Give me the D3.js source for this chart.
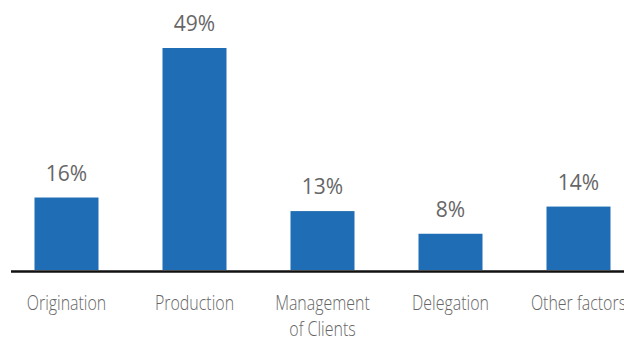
<!DOCTYPE html>
<html>
<head>
<meta charset="utf-8">
<script src="https://cdn.jsdelivr.net/npm/d3@7/dist/d3.min.js"></script>
<style>
  html, body { margin: 0; padding: 0; background: #fff; overflow: hidden; }
  svg { display: block; }
</style>
</head>
<body>
<svg id="chart" width="624" height="338"></svg>
<script>
// Share of responses by factor
const categories = ["Origination", "Production", "Management|of Clients", "Delegation", "Other factors"];
const values = [16, 49, 13, 8, 14];

const width = 624, height = 338;
const baseY = 270;

const svg = d3.select("#chart");

const x = d3.scaleBand()
  .domain(categories)
  .range([2.5, 642.5])
  .paddingInner(0.5)
  .paddingOuter(0.25);

const y = d3.scaleLinear()
  .domain([0, 49])
  .range([baseY, 48]);

// bars
svg.selectAll("rect.bar")
  .data(categories)
  .join("rect")
  .attr("class", "bar")
  .attr("x", d => x(d))
  .attr("width", x.bandwidth())
  .attr("y", (d, i) => y(values[i]))
  .attr("height", (d, i) => y(0) - y(values[i]))
  .attr("fill", "#1f6db5");

// value labels
svg.selectAll("text.val")
  .data(categories)
  .join("text")
  .attr("class", "val")
  .attr("x", d => x(d) + x.bandwidth() / 2)
  .attr("y", (d, i) => y(values[i]) - 17)
  .attr("text-anchor", "middle")
  .attr("font-family", "'Open Sans', sans-serif")
  .attr("font-size", 21)
  .attr("fill", "#666")
  .text((d, i) => values[i] + "%");

// baseline
svg.append("line")
  .attr("x1", 11).attr("x2", width)
  .attr("y1", baseY + 1.5).attr("y2", baseY + 1.5)
  .attr("stroke", "#111")
  .attr("stroke-width", 2.5);

// category labels (condensed)
const labels = svg.selectAll("g.cat")
  .data(categories)
  .join("g")
  .attr("class", "cat")
  .attr("transform", d => `translate(${x(d) + x.bandwidth() / 2},0) scale(0.76,1)`);

labels.each(function(d) {
  const lines = d.split("|");
  const t = d3.select(this).append("text")
    .attr("text-anchor", "middle")
    .attr("font-family", "'Open Sans', sans-serif")
    .attr("font-weight", 300)
    .attr("font-size", 21)
    .attr("fill", "#666");
  lines.forEach((ln, k) => {
    t.append("tspan").attr("x", 0).attr("y", 310 + k * 26).text(ln);
  });
});
</script>
</body>
</html>
